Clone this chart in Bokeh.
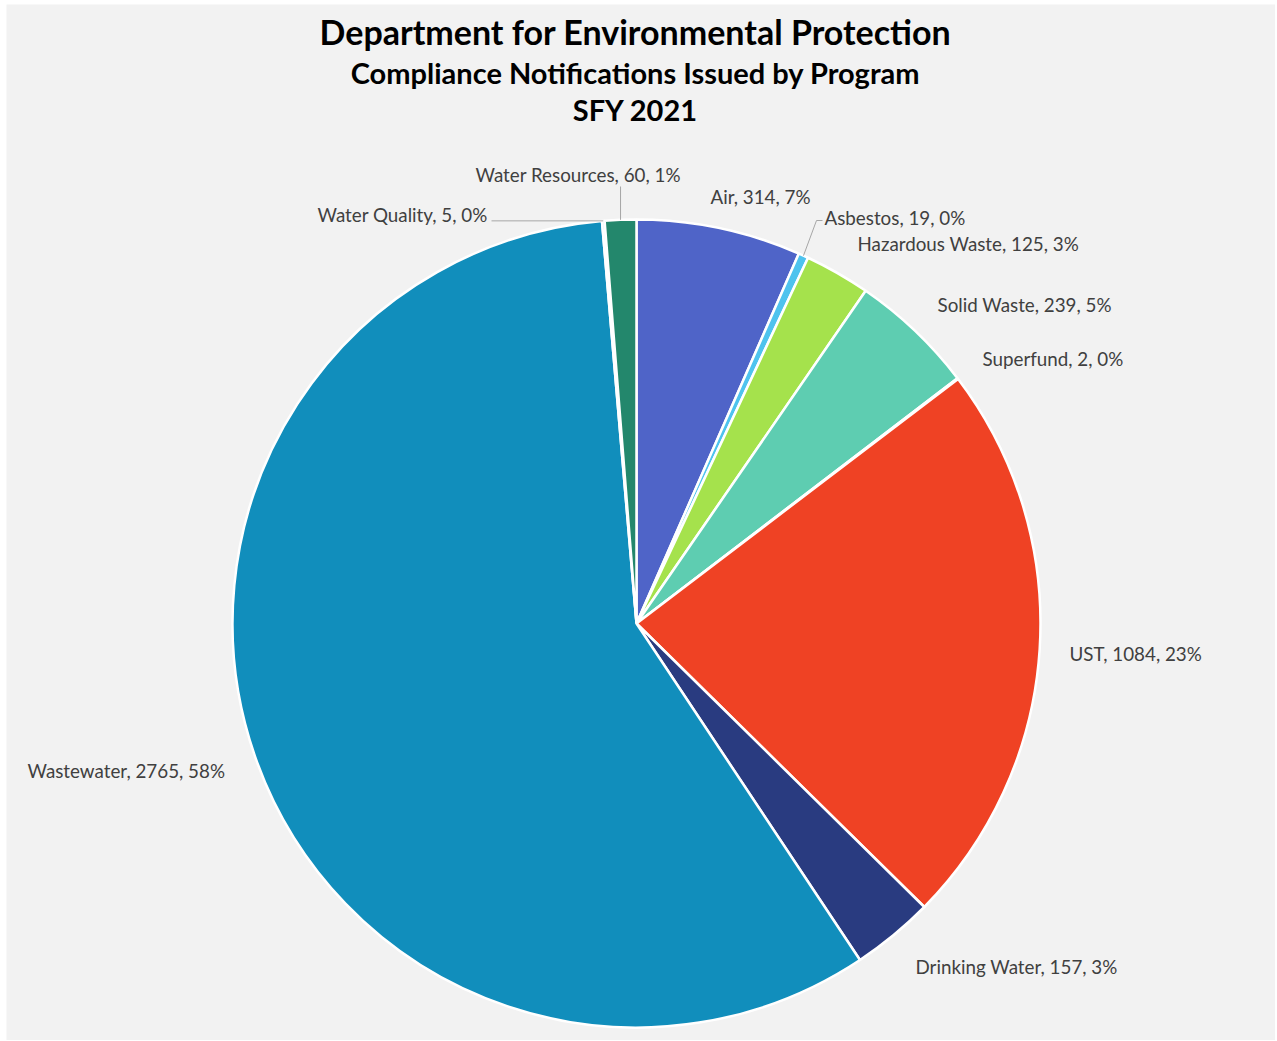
import numpy as np
from bokeh.plotting import figure, ColumnDataSource
from bokeh.models import Range1d
from bokeh.core.properties import value
from bokeh.embed import file_html
from bokeh.resources import INLINE

# ---------------- data ----------------
categories = ["Air", "Asbestos", "Hazardous Waste", "Solid Waste", "Superfund",
              "UST", "Drinking Water", "Wastewater", "Water Quality", "Water Resources"]
counts = [314, 19, 125, 239, 2, 1084, 157, 2765, 5, 60]
colors = ["#4F64C8", "#4EC3EE", "#A5E24C", "#5ECDB1", "#F39C34",
          "#EF4224", "#293B80", "#118EBC", "#8FD8E8", "#23876C"]
title_lines = ["Department for Environmental Protection",
               "Compliance Notifications Issued by Program",
               "SFY 2021"]

# ---------------- layout (page pixels) ----------------
BL, BT = 6, 4                 # white border left / top
FW, FH = 1269, 1036           # grey frame size
def X(px): return px - BL
def Y(py): return (FH + BT) - py

CX, CY, R = 636, 623, 404
# label left-edge / vertical-centre positions (page pixels), styling only
label_pos = {
    "Air": (710, 196), "Asbestos": (824, 217), "Hazardous Waste": (857, 243),
    "Solid Waste": (937, 304), "Superfund": (982, 358), "UST": (1069, 653),
    "Drinking Water": (915, 966), "Wastewater": (27, 770),
    "Water Quality": (317, 214), "Water Resources": (475, 174),
}

total = float(sum(counts))
frac = np.array(counts) / total
cum = np.concatenate([[0], np.cumsum(frac)])
start = np.pi / 2 - 2 * np.pi * cum[:-1]
end = np.pi / 2 - 2 * np.pi * cum[1:]
mid = (start + end) / 2

p = figure(width=BL + FW, height=BT + FH, output_backend="svg", toolbar_location=None,
           x_range=Range1d(0, FW), y_range=Range1d(0, FH),
           x_axis_location=None, y_axis_location=None,
           min_border=0, min_border_left=BL, min_border_right=0,
           min_border_top=BT, min_border_bottom=0)
p.grid.visible = False
p.background_fill_color = "#F2F2F2"
p.border_fill_color = "#FFFFFF"
p.outline_line_color = None

src = ColumnDataSource(dict(cat=categories, val=counts, color=colors,
                            start=start, end=end))
p.wedge(x=X(CX), y=Y(CY), radius=R, start_angle="start", end_angle="end",
        direction="clock", fill_color="color", line_color="white",
        line_width=2.5, source=src)

# labels
lx, ly, lt = [], [], []
for c, v in zip(categories, counts):
    pct = int(round(100 * v / total))
    x0, y0 = label_pos[c]
    lx.append(X(x0)); ly.append(Y(y0)); lt.append(f"{c}, {v}, {pct}%")
p.text(x=lx, y=ly, text=lt, text_align="left", text_baseline="middle",
       text_font=value("Lato"), text_font_size="18.8px", text_color="#404040")

# leader lines for small slices
def edge(i):
    return CX + R * np.cos(mid[i]), CY - R * np.sin(mid[i])

i = categories.index("Water Resources")
ex, ey = edge(i)
p.line([X(ex), X(ex)], [Y(ey), Y(label_pos["Water Resources"][1] + 12)],
       line_color="#A6A6A6", line_width=1)
i = categories.index("Water Quality")
ex, ey = edge(i)
p.line([X(ex), X(label_pos["Water Quality"][0] + 174)], [Y(ey), Y(ey)],
       line_color="#A6A6A6", line_width=1)
i = categories.index("Asbestos")
ex, ey = edge(i)
ax, ay = label_pos["Asbestos"]
p.line([X(ex), X(ax - 8), X(ax - 2)], [Y(ey), Y(ay + 3), Y(ay + 3)],
       line_color="#A6A6A6", line_width=1)

# titles
ty = [31, 72, 109]
ts = ["34px", "29px", "29px"]
for t, yy, s in zip(title_lines, ty, ts):
    p.text(x=[X(635)], y=[Y(yy)], text=[t], text_align="center",
           text_baseline="middle", text_font=value("Lato"),
           text_font_style="bold", text_font_size=s, text_color="#000000")

open("out.html", "w").write(file_html(p, INLINE))
